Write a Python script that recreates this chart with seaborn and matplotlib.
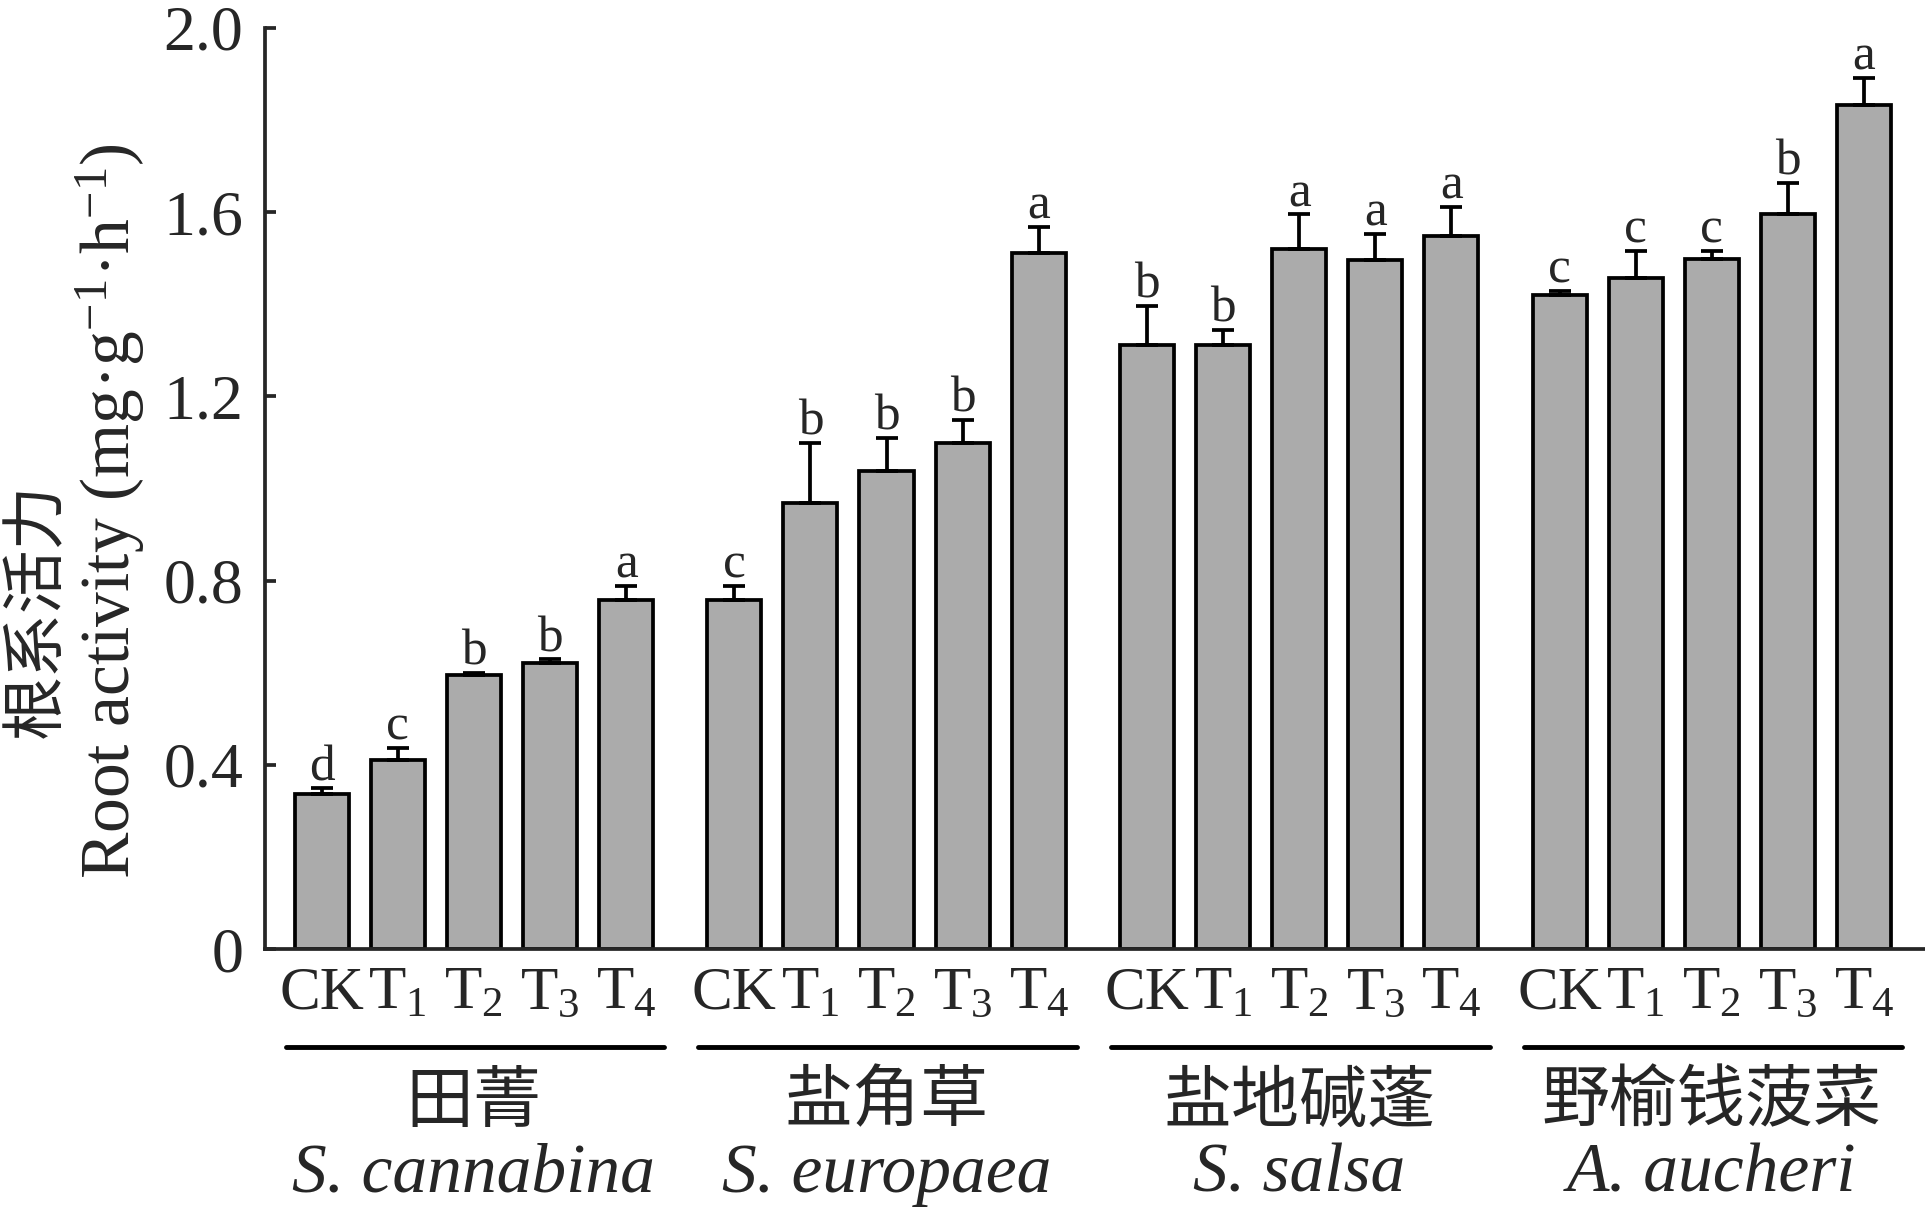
import matplotlib
matplotlib.use("Agg")
import matplotlib.pyplot as plt
from matplotlib import transforms
import numpy as np
import pandas as pd
import seaborn as sns

# values (mean and upper error bar)
treatments = ["CK", "T1", "T2", "T3", "T4"]
tick_labels = ["CK", "T$_1$", "T$_2$", "T$_3$", "T$_4$"]
species_cn = ["田菁", "盐角草", "盐地碱蓬", "野榆钱菠菜"]
species_latin = ["S. cannabina", "S. europaea", "S. salsa", "A. aucheri"]
root_activity = [
    [0.336, 0.411, 0.595, 0.621, 0.757],
    [0.757, 0.968, 1.037, 1.099, 1.512],
    [1.312, 1.312, 1.520, 1.496, 1.547],
    [1.419, 1.456, 1.499, 1.595, 1.832],
]
errors = [
    [0.013, 0.026, 0.005, 0.008, 0.032],
    [0.032, 0.131, 0.072, 0.050, 0.056],
    [0.085, 0.032, 0.075, 0.056, 0.064],
    [0.010, 0.059, 0.016, 0.069, 0.059],
]
letters = [
    ["d", "c", "b", "b", "a"],
    ["c", "b", "b", "b", "a"],
    ["b", "b", "a", "a", "a"],
    ["c", "c", "c", "b", "a"],
]

GROUP_STRIDE = 5.42
BAR_COLOR = "#ababab"
LW = 2.7

rows = []
for g, sp in enumerate(species_latin):
    for i, tr in enumerate(treatments):
        rows.append({
            "species": sp,
            "treatment": tr,
            "pos": g * GROUP_STRIDE + i,
            "value": root_activity[g][i],
            "err": errors[g][i],
            "letter": letters[g][i],
            "label": tick_labels[i],
        })
df = pd.DataFrame(rows)

sns.set_style("ticks")
plt.rcParams["font.family"] = ["Liberation Serif", "Noto Sans CJK SC"]
plt.rcParams["mathtext.fontset"] = "custom"
plt.rcParams["mathtext.rm"] = "Liberation Serif"
plt.rcParams["mathtext.it"] = "Liberation Serif:italic"
plt.rcParams["mathtext.bf"] = "Liberation Serif:bold"

fig = plt.figure(figsize=(19.25, 12.09), dpi=100)
ax = fig.add_axes([0.1378, 0.215, 0.8622, 0.762])

sns.barplot(
    data=df, x="pos", y="value", native_scale=True, width=0.71,
    color=BAR_COLOR, saturation=1, edgecolor="black", linewidth=LW,
    errorbar=None, ax=ax,
)
ax.errorbar(
    df["pos"], df["value"], yerr=[np.zeros(len(df)), df["err"]],
    fmt="none", ecolor="black", elinewidth=LW, capsize=8, capthick=LW,
)
for _, r in df.iterrows():
    ax.text(r["pos"], r["value"] + r["err"] + 0.018, r["letter"],
            ha="center", va="baseline", fontsize=37)

ax.set_xlim(-0.74, 3 * GROUP_STRIDE + 4.8)
ax.set_ylim(0, 2.0)
yt = [0, 0.4, 0.8, 1.2, 1.6, 2.0]
ax.set_yticks(yt, ["0" if v == 0 else f"{v:.1f}" for v in yt])
ax.set_xticks(df["pos"], df["label"])
ax.tick_params(axis="y", direction="in", length=8, width=LW, labelsize=46, pad=16)
ax.tick_params(axis="x", length=0, labelsize=44, pad=12)
ax.set_xlabel("")
ax.set_ylabel("")
ax.spines[["top", "right"]].set_visible(False)
ax.spines[["left", "bottom"]].set_linewidth(LW)

# group underlines and species names
trans = transforms.blended_transform_factory(ax.transData, fig.transFigure)
for g in range(len(species_latin)):
    x0 = g * GROUP_STRIDE
    ax.plot([x0 - 0.47, x0 + 4.5], [0.134, 0.134], color="black", lw=3.5,
            transform=trans, clip_on=False)
    ax.text(x0 + 2, 0.088, species_cn[g], transform=trans, ha="center",
            va="center", fontsize=49, family=["Noto Sans CJK SC"])
    ax.text(x0 + 2, 0.028, species_latin[g], transform=trans, ha="center",
            va="center", fontsize=50, style="italic")

fig.text(0.019, 0.495, "根系活力", rotation=90, ha="center", va="center",
         fontsize=46, family=["Noto Sans CJK SC"])
fig.text(0.057, 0.577, "Root activity (mg·g$^{-1}$·h$^{-1}$)", rotation=90,
         ha="center", va="center", fontsize=50)

fig.savefig("out.png", dpi=100)
